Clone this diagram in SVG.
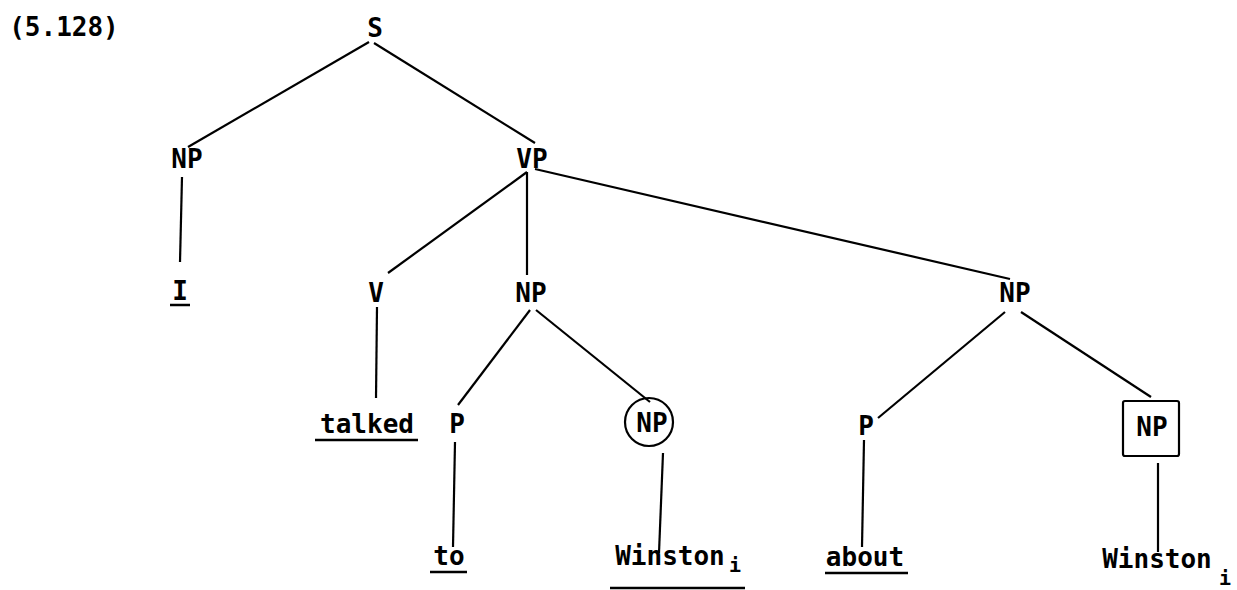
<svg xmlns="http://www.w3.org/2000/svg" width="1237" height="590" viewBox="0 0 1237 590">
<style>
text{font-family:"DejaVu Sans Mono","Liberation Mono",monospace;font-weight:bold;font-size:26px;fill:#000;text-anchor:middle}
.sub{font-size:20px}
line,.box,circle{stroke:#000;stroke-width:2.2;fill:none}
.ul{stroke-width:2.5}
</style>
<rect x="0" y="0" width="1237" height="590" fill="#fff"/>
<text x="64" y="36">(5.128)</text>
<g id="connectors">
<line x1="369" y1="42" x2="188" y2="147"/>
<line x1="374" y1="43" x2="535" y2="143"/>
<line x1="182" y1="177" x2="180" y2="262"/>
<line x1="527" y1="172" x2="388" y2="273"/>
<line x1="527" y1="172" x2="527" y2="275"/>
<line x1="535" y1="169" x2="1010" y2="279"/>
<line x1="377" y1="307" x2="376" y2="398"/>
<line x1="530" y1="310" x2="458" y2="405"/>
<line x1="536" y1="310" x2="650" y2="402"/>
<line x1="455" y1="442" x2="453" y2="547"/>
<line x1="663" y1="453" x2="659" y2="553"/>
<line x1="1005" y1="312" x2="878" y2="418"/>
<line x1="1021" y1="312" x2="1151" y2="397"/>
<line x1="864" y1="440" x2="862" y2="547"/>
<line x1="1158" y1="463" x2="1158" y2="552"/>
</g>
<g id="S"><text x="375" y="37">S</text></g>
<g id="NP1"><text x="187" y="168">NP</text></g>
<g id="I"><text x="180" y="300">I</text><line class="ul" x1="170" y1="305" x2="190" y2="305"/></g>
<g id="VP"><text x="532" y="168">VP</text></g>
<g id="V"><text x="376" y="302">V</text></g>
<g id="talked"><text x="367" y="433">talked</text><line class="ul" x1="315" y1="440" x2="418" y2="440"/></g>
<g id="NP2"><text x="531" y="302">NP</text></g>
<g id="P1"><text x="457" y="433">P</text></g>
<g id="to"><text x="449" y="565">to</text><line class="ul" x1="430" y1="572" x2="467" y2="572"/></g>
<g id="NP3"><circle cx="649" cy="422" r="24"/><text x="652" y="432">NP</text></g>
<g id="Winston1"><text x="670" y="565">Winston</text><text class="sub" x="735" y="572">i</text><line class="ul" x1="610" y1="588" x2="745" y2="588"/></g>
<g id="NP4"><text x="1015" y="302">NP</text></g>
<g id="P2"><text x="866" y="435">P</text></g>
<g id="about"><text x="865" y="566">about</text><line class="ul" x1="825" y1="573" x2="908" y2="573"/></g>
<g id="NP5"><rect class="box" x="1123" y="401" width="56" height="55" rx="2"/><text x="1152" y="436">NP</text></g>
<g id="Winston2"><text x="1157" y="568">Winston</text><text class="sub" x="1225" y="585">i</text></g>
</svg>
